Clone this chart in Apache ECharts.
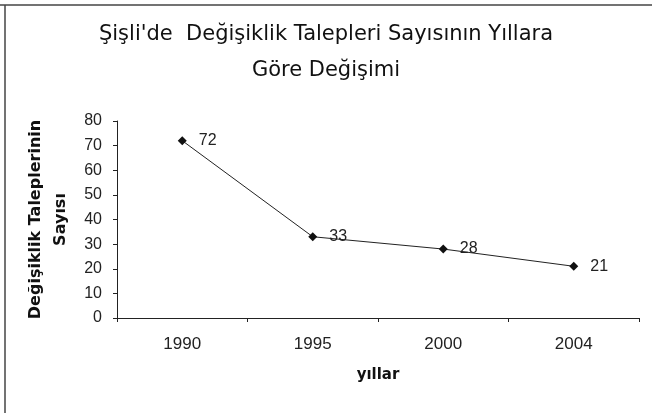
<!DOCTYPE html>
<html>
<head>
<meta charset="utf-8">
<script src="https://cdn.jsdelivr.net/npm/echarts@6/dist/echarts.min.js"></script>
<style>
  html, body { margin: 0; padding: 0; background: #fff; }
  #chart { width: 652px; height: 413px; }
</style>
</head>
<body>
<div id="chart"></div>
<script>
// Yearly count of change requests in Şişli
const years = ['1990', '1995', '2000', '2004'];
const requestCounts = [72, 33, 28, 21];
const yTicks = { min: 0, max: 80, interval: 10 };

const chart = echarts.init(document.getElementById('chart'), null, { renderer: 'canvas' });
const textFont = 'DejaVu Sans';
const numFont = 'Arial';

chart.setOption({
  backgroundColor: '#fff',
  animation: false,
  title: {
    text: "Şişli'de  Değişiklik Talepleri Sayısının Yıllara\nGöre Değişimi",
    left: 'center',
    top: 12,
    textStyle: { fontFamily: textFont, fontSize: 21, fontWeight: 'normal', color: '#111', lineHeight: 36 }
  },
  grid: { left: 117, right: 13, top: 121, bottom: 95 },
  xAxis: {
    type: 'category',
    data: years,
    boundaryGap: true,
    name: 'yıllar',
    nameLocation: 'middle',
    nameGap: 50,
    nameTextStyle: { fontFamily: textFont, fontSize: 15, fontWeight: 'bold', color: '#111' },
    axisLine: { lineStyle: { color: '#222', width: 1 } },
    axisTick: { show: true, length: 4, inside: false, lineStyle: { color: '#222' } },
    axisLabel: { fontFamily: numFont, fontSize: 17, color: '#222', margin: 18 },
    splitLine: { show: false }
  },
  yAxis: {
    type: 'value',
    min: yTicks.min,
    max: yTicks.max,
    interval: yTicks.interval,
    name: 'Değişiklik Taleplerinin\nSayısı',
    nameLocation: 'middle',
    nameGap: 40,
    nameRotate: 90,
    nameTextStyle: { fontFamily: textFont, fontSize: 16, fontWeight: 'bold', color: '#111', lineHeight: 25 },
    axisLine: { show: true, lineStyle: { color: '#222', width: 1 } },
    axisTick: { show: true, length: 4, lineStyle: { color: '#222' } },
    axisLabel: { fontFamily: numFont, fontSize: 16, color: '#222', margin: 15 },
    splitLine: { show: false }
  },
  series: [{
    type: 'line',
    data: requestCounts,
    symbol: 'diamond',
    symbolSize: 9,
    itemStyle: { color: '#111' },
    lineStyle: { color: '#222', width: 1 },
    label: {
      show: true,
      position: 'right',
      distance: 12,
      fontFamily: numFont,
      fontSize: 16,
      color: '#222'
    }
  }],
  graphic: [
    { type: 'line', shape: { x1: 5, y1: 5, x2: 5, y2: 413 }, style: { stroke: '#444', lineWidth: 1.5 } },
    { type: 'line', shape: { x1: 0, y1: 5, x2: 652, y2: 5 }, style: { stroke: '#444', lineWidth: 1.5 } }
  ]
});
</script>
</body>
</html>
